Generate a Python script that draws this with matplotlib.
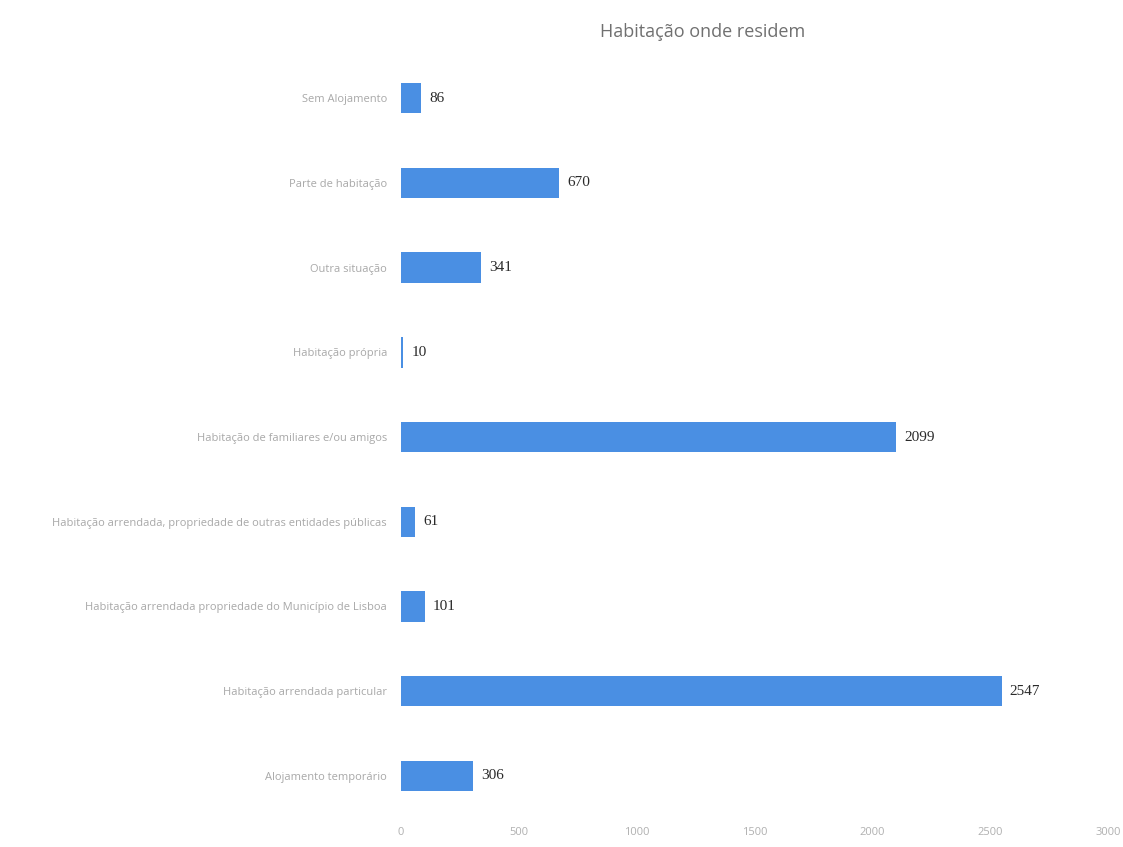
import matplotlib
matplotlib.use("Agg")
import matplotlib.pyplot as plt

# categorias (de cima para baixo) e número de pessoas
categorias = [
    "Sem Alojamento",
    "Parte de habitação",
    "Outra situação",
    "Habitação própria",
    "Habitação de familiares e/ou amigos",
    "Habitação arrendada, propriedade de outras entidades públicas",
    "Habitação arrendada propriedade do Município de Lisboa",
    "Habitação arrendada particular",
    "Alojamento temporário",
]
valores = [86, 670, 341, 10, 2099, 61, 101, 2547, 306]
ticks_x = [0, 500, 1000, 1500, 2000, 2500, 3000]

fig = plt.figure(figsize=(11.23, 8.47), dpi=100)
ax = fig.add_axes([0.357, 0.034, 0.630, 0.90])

pos = list(range(len(categorias)))
ax.barh(pos, valores, height=0.36, color="#4a8fe3")
ax.set_ylim(len(categorias) - 0.5, -0.5)
ax.set_xlim(0, 3000)

ax.set_yticks(pos)
ax.set_yticklabels(categorias, fontsize=8, color="#a8a8a8", family="Open Sans")
ax.set_xticks(ticks_x)
ax.set_xticklabels([str(t) for t in ticks_x], fontsize=8, color="#b0b0b0", family="Open Sans")
ax.tick_params(length=0, pad=10)
ax.tick_params(axis="x", pad=6)

for s in ax.spines.values():
    s.set_visible(False)

for p, v in zip(pos, valores):
    ax.text(v + 35, p, str(v), va="center", ha="left", fontsize=11,
            color="#2a2a2a", family="Liberation Serif")

fig.text(0.626, 0.962, "Habitação onde residem", ha="center", va="center",
         fontsize=13, color="#707070", family="Open Sans")

fig.savefig("out.png", dpi=100)
